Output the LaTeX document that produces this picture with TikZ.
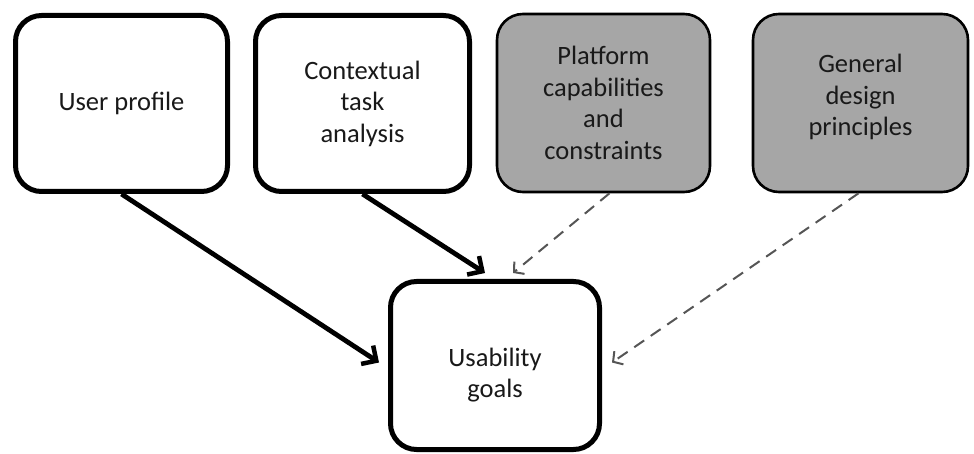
\documentclass[tikz,border=0pt]{standalone}
\usepackage{fontspec}
\setmainfont{Carlito}
\usetikzlibrary{arrows.meta}
\definecolor{boxgray}{HTML}{A6A6A6}
\definecolor{dashgray}{HTML}{555555}
\begin{document}
\begin{tikzpicture}[x=1pt,y=-1pt,
  card/.style={rounded corners=26pt, align=center, inner sep=0pt,
    font=\fontsize{26.5}{31.5}\selectfont, text=black!90},
  mainbox/.style={card, draw=black, line width=5pt, fill=white},
  extbox/.style={card, draw=black, line width=2.6pt, fill=boxgray},
  strong/.style={draw=black, line width=4.8pt,
    -{Straight Barb[length=11pt,width=22pt,line width=4.5pt]}},
  weak/.style={draw=dashgray, line width=2pt, dash pattern=on 12pt off 8pt,
    -{Straight Barb[length=7pt,width=16pt,line width=2pt]}}]
\useasboundingbox (0,0) rectangle (974,454);

\node[mainbox, minimum width=212pt, minimum height=176pt] (user) at (121.5,103.5) {User profile};
\node[mainbox, minimum width=214pt, minimum height=176pt] (task) at (362.5,103.5) {Contextual\\task\\analysis};
\node[extbox, minimum width=213pt, minimum height=178pt] (plat) at (603.5,103) {Platform\\capabilities\\and\\constraints};
\node[extbox, minimum width=215pt, minimum height=178pt] (gen) at (860.5,103) {General\\design\\principles\\[-16pt]};
\node[mainbox, minimum width=209pt, minimum height=168pt] (goals) at (495,365.5) {\\[6pt]Usability\\goals};

\draw[strong] (user.south) -- ([xshift=-9pt,yshift=3pt]goals.west);
\draw[strong] (task.south) -- ([xshift=-10pt,yshift=6pt]goals.north);
\draw[weak] ([xshift=6pt]plat.south) -- ([xshift=18pt,yshift=6pt]goals.north);
\draw[weak] ([xshift=-2pt]gen.south) -- ([xshift=10pt,yshift=3pt]goals.east);
\end{tikzpicture}
\end{document}
